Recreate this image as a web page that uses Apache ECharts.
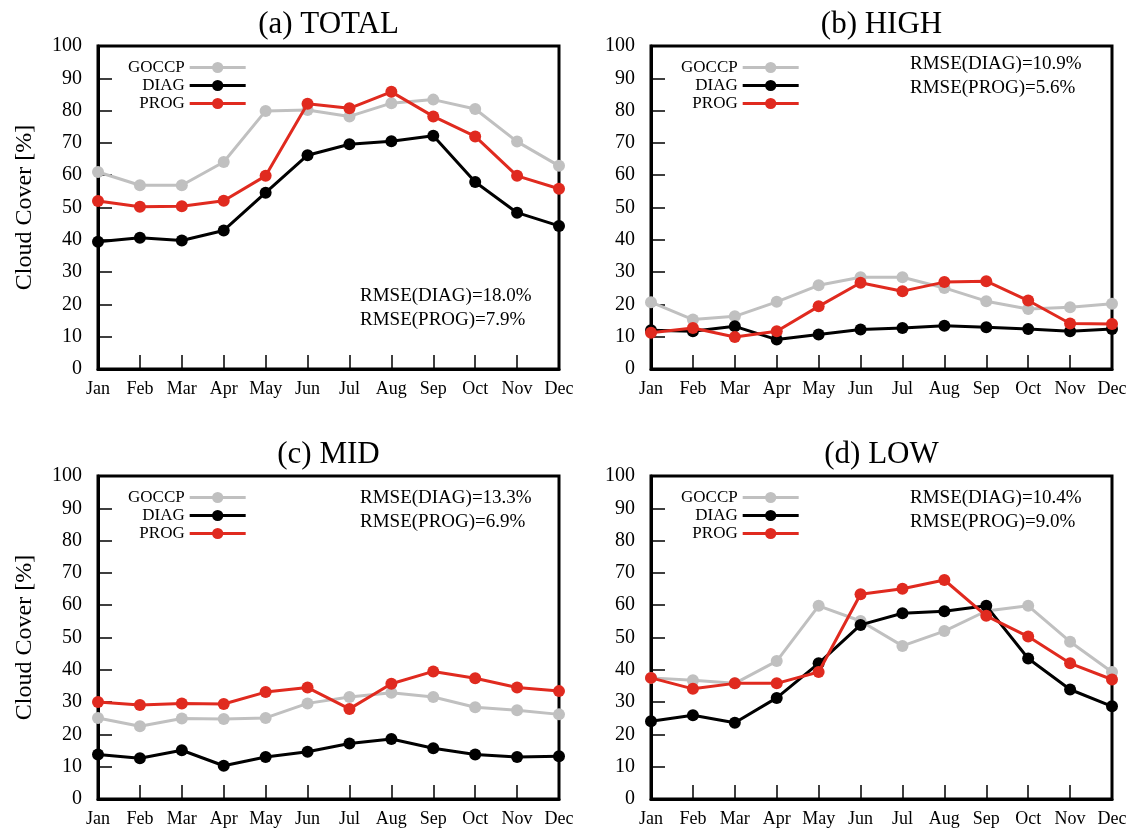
<!DOCTYPE html>
<html>
<head>
<meta charset="utf-8">
<script src="https://cdn.jsdelivr.net/npm/echarts@6/dist/echarts.min.js"></script>
<style>
html,body{margin:0;padding:0;background:#fff;}
#chart{width:1130px;height:828px;}
</style>
</head>
<body>
<div id="chart"></div>
<script>
const months = ['Jan','Feb','Mar','Apr','May','Jun','Jul','Aug','Sep','Oct','Nov','Dec'];
const seriesNames = ['GOCCP','DIAG','PROG'];

const totalGoccp = [61.0,56.9,56.9,64.1,79.9,80.2,78.2,82.3,83.4,80.5,70.4,62.9];
const totalDiag  = [39.4,40.6,39.8,42.9,54.6,66.2,69.6,70.5,72.2,57.9,48.4,44.3];
const totalProg  = [52.0,50.2,50.4,52.1,59.8,82.1,80.7,85.8,78.2,72.0,59.8,55.8];

const highGoccp = [20.7,15.3,16.3,20.8,25.9,28.4,28.4,25.1,21.0,18.6,19.1,20.2];
const highDiag  = [12.0,11.7,13.2,9.1,10.7,12.2,12.7,13.4,12.9,12.4,11.7,12.4];
const highProg  = [11.2,12.7,9.9,11.7,19.4,26.7,24.1,26.9,27.2,21.2,14.1,13.9];

const midGoccp = [25.1,22.5,24.9,24.8,25.1,29.6,31.6,32.9,31.6,28.4,27.5,26.2];
const midDiag  = [13.8,12.6,15.1,10.3,13.0,14.6,17.2,18.6,15.7,13.8,13.0,13.2];
const midProg  = [30.0,29.1,29.6,29.4,33.1,34.5,27.9,35.7,39.5,37.4,34.5,33.4];

const lowGoccp = [37.5,36.8,35.8,42.7,59.8,55.1,47.4,52.0,58.2,59.8,48.7,39.3];
const lowDiag  = [24.1,25.9,23.6,31.3,42.0,53.9,57.5,58.1,59.8,43.5,33.9,28.7];
const lowProg  = [37.5,34.1,35.8,35.8,39.3,63.4,65.1,67.8,56.7,50.3,42.0,37.0];

const panelTitles = ['(a) TOTAL','(b) HIGH','(c) MID','(d) LOW'];
const rmseDiag = ['RMSE(DIAG)=18.0%','RMSE(DIAG)=10.9%','RMSE(DIAG)=13.3%','RMSE(DIAG)=10.4%'];
const rmseProg = ['RMSE(PROG)=7.9%','RMSE(PROG)=5.6%','RMSE(PROG)=6.9%','RMSE(PROG)=9.0%'];
const yTicks = [0,10,20,30,40,50,60,70,80,90,100];
const yName = 'Cloud Cover [%]';

const panelData = [
  [totalGoccp,totalDiag,totalProg],
  [highGoccp,highDiag,highProg],
  [midGoccp,midDiag,midProg],
  [lowGoccp,lowDiag,lowProg]
];

const FONT = "'Liberation Serif','DejaVu Serif',serif";
const colors = ['#c0c0c0','#000000','#e02a1f'];

const grids = [
  {left:98, top:46, width:461, height:323},
  {left:651, top:46, width:461, height:323},
  {left:98, top:476, width:461, height:323},
  {left:651, top:476, width:461, height:323}
];
const rmsePos = [
  {x:360, y:296},
  {x:910, y:64},
  {x:360, y:498},
  {x:910, y:498}
];

const option = {
  backgroundColor:'#fff',
  animation:false,
  title: [],
  legend: [],
  grid: [],
  xAxis: [],
  yAxis: [],
  series: [],
  graphic: []
};

grids.forEach((g,i)=>{
  option.grid.push(Object.assign({show:true, borderColor:'#000', borderWidth:3, backgroundColor:'transparent'}, g));
  option.title.push({
    text: panelTitles[i],
    left: g.left + g.width/2,
    textAlign:'center',
    top: g.top - 37,
    padding:0,
    textStyle:{fontFamily:FONT, fontSize:31, fontWeight:'normal', color:'#000'}
  });
  option.xAxis.push({
    type:'category', gridIndex:i, data:months, boundaryGap:false,
    axisLine:{show:true, lineStyle:{color:'#000', width:3}},
    axisTick:{show:true, inside:true, length:14, lineStyle:{color:'#000', width:1.5}},
    axisLabel:{interval:0, margin:11, fontFamily:FONT, fontSize:18, color:'#000'},
    splitLine:{show:false}
  });
  option.yAxis.push({
    type:'value', gridIndex:i, min:yTicks[0], max:yTicks[yTicks.length-1], interval:10,
    name: (i%2===0) ? yName : '',
    nameLocation:'middle', nameGap:61, nameRotate:90,
    nameTextStyle:{fontFamily:FONT, fontSize:24, color:'#000'},
    axisLine:{show:true, lineStyle:{color:'#000', width:3}},
    axisTick:{show:true, inside:true, length:14, lineStyle:{color:'#000', width:1.5}},
    axisLabel:{margin:16, fontFamily:FONT, fontSize:20, color:'#000'},
    splitLine:{show:false}
  });
  option.legend.push({
    orient:'vertical', align:'right',
    left: g.left + 30,
    top: g.top + 13,
    itemWidth:56, itemHeight:14, itemGap:1, padding:0,
    lineStyle:{width:3},
    textStyle:{fontFamily:FONT, fontSize:17, color:'#000'},
    data: seriesNames.map(n => n + ' ' + panelTitles[i]),
    formatter: function(name){ return name.split(' ')[0]; }
  });
  seriesNames.forEach((n,k)=>{
    option.series.push({
      name: n + ' ' + panelTitles[i],
      type:'line', xAxisIndex:i, yAxisIndex:i,
      data: panelData[i][k],
      symbol:'circle', symbolSize:12,
      lineStyle:{color:colors[k], width:3},
      itemStyle:{color:colors[k]},
      z: 2 + k
    });
  });
  option.graphic.push({
    type:'text', x: rmsePos[i].x, y: rmsePos[i].y,
    style:{text: rmseDiag[i], fontFamily:FONT, fontSize:19, fill:'#000', verticalAlign:'middle'}
  });
  option.graphic.push({
    type:'text', x: rmsePos[i].x, y: rmsePos[i].y + 24,
    style:{text: rmseProg[i], fontFamily:FONT, fontSize:19, fill:'#000', verticalAlign:'middle'}
  });
});

const chart = echarts.init(document.getElementById('chart'), null, {renderer:'canvas'});
chart.setOption(option);
</script>
</body>
</html>
